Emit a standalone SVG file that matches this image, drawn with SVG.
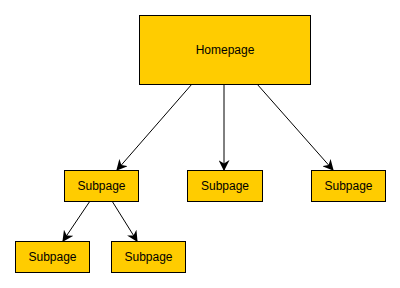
<svg xmlns="http://www.w3.org/2000/svg" width="400" height="288" viewBox="0 0 400 288">
<style>
.n rect{fill:#ffcc00;stroke:#000;stroke-width:1}
.n text{font-family:"Liberation Sans",Arial,sans-serif;font-size:12px;fill:#000;text-anchor:middle;dominant-baseline:central}
.c line{stroke:#000;stroke-width:1}
</style>
<defs>
<marker id="a" viewBox="0 0 10 10" refX="9" refY="5" markerWidth="11" markerHeight="11" markerUnits="userSpaceOnUse" orient="auto">
<path d="M0,0 L10,5 L0,10 L3,5 Z" fill="#000"/>
</marker>
</defs>
<rect width="400" height="288" fill="#fff"/>
<g class="c">
<line x1="192" y1="84" x2="117" y2="170" marker-end="url(#a)"/>
<line x1="224" y1="84" x2="224" y2="170" marker-end="url(#a)"/>
<line x1="257" y1="84" x2="333" y2="170" marker-end="url(#a)"/>
<line x1="90" y1="201" x2="63" y2="241" marker-end="url(#a)"/>
<line x1="112" y1="201" x2="137" y2="241" marker-end="url(#a)"/>
</g>
<g id="home" class="n"><rect x="139.5" y="15.5" width="171" height="69"/><text x="225" y="50">Homepage</text></g>
<g id="sub1" class="n"><rect x="64.5" y="170.5" width="74" height="31"/><text x="101.5" y="186">Subpage</text></g>
<g id="sub2" class="n"><rect x="187.5" y="170.5" width="75" height="31"/><text x="225" y="186">Subpage</text></g>
<g id="sub3" class="n"><rect x="311.5" y="170.5" width="74" height="31"/><text x="348.5" y="186">Subpage</text></g>
<g id="sub4" class="n"><rect x="15.5" y="241.5" width="74" height="31"/><text x="52.5" y="257">Subpage</text></g>
<g id="sub5" class="n"><rect x="111.5" y="241.5" width="74" height="31"/><text x="148.5" y="257">Subpage</text></g>
</svg>
